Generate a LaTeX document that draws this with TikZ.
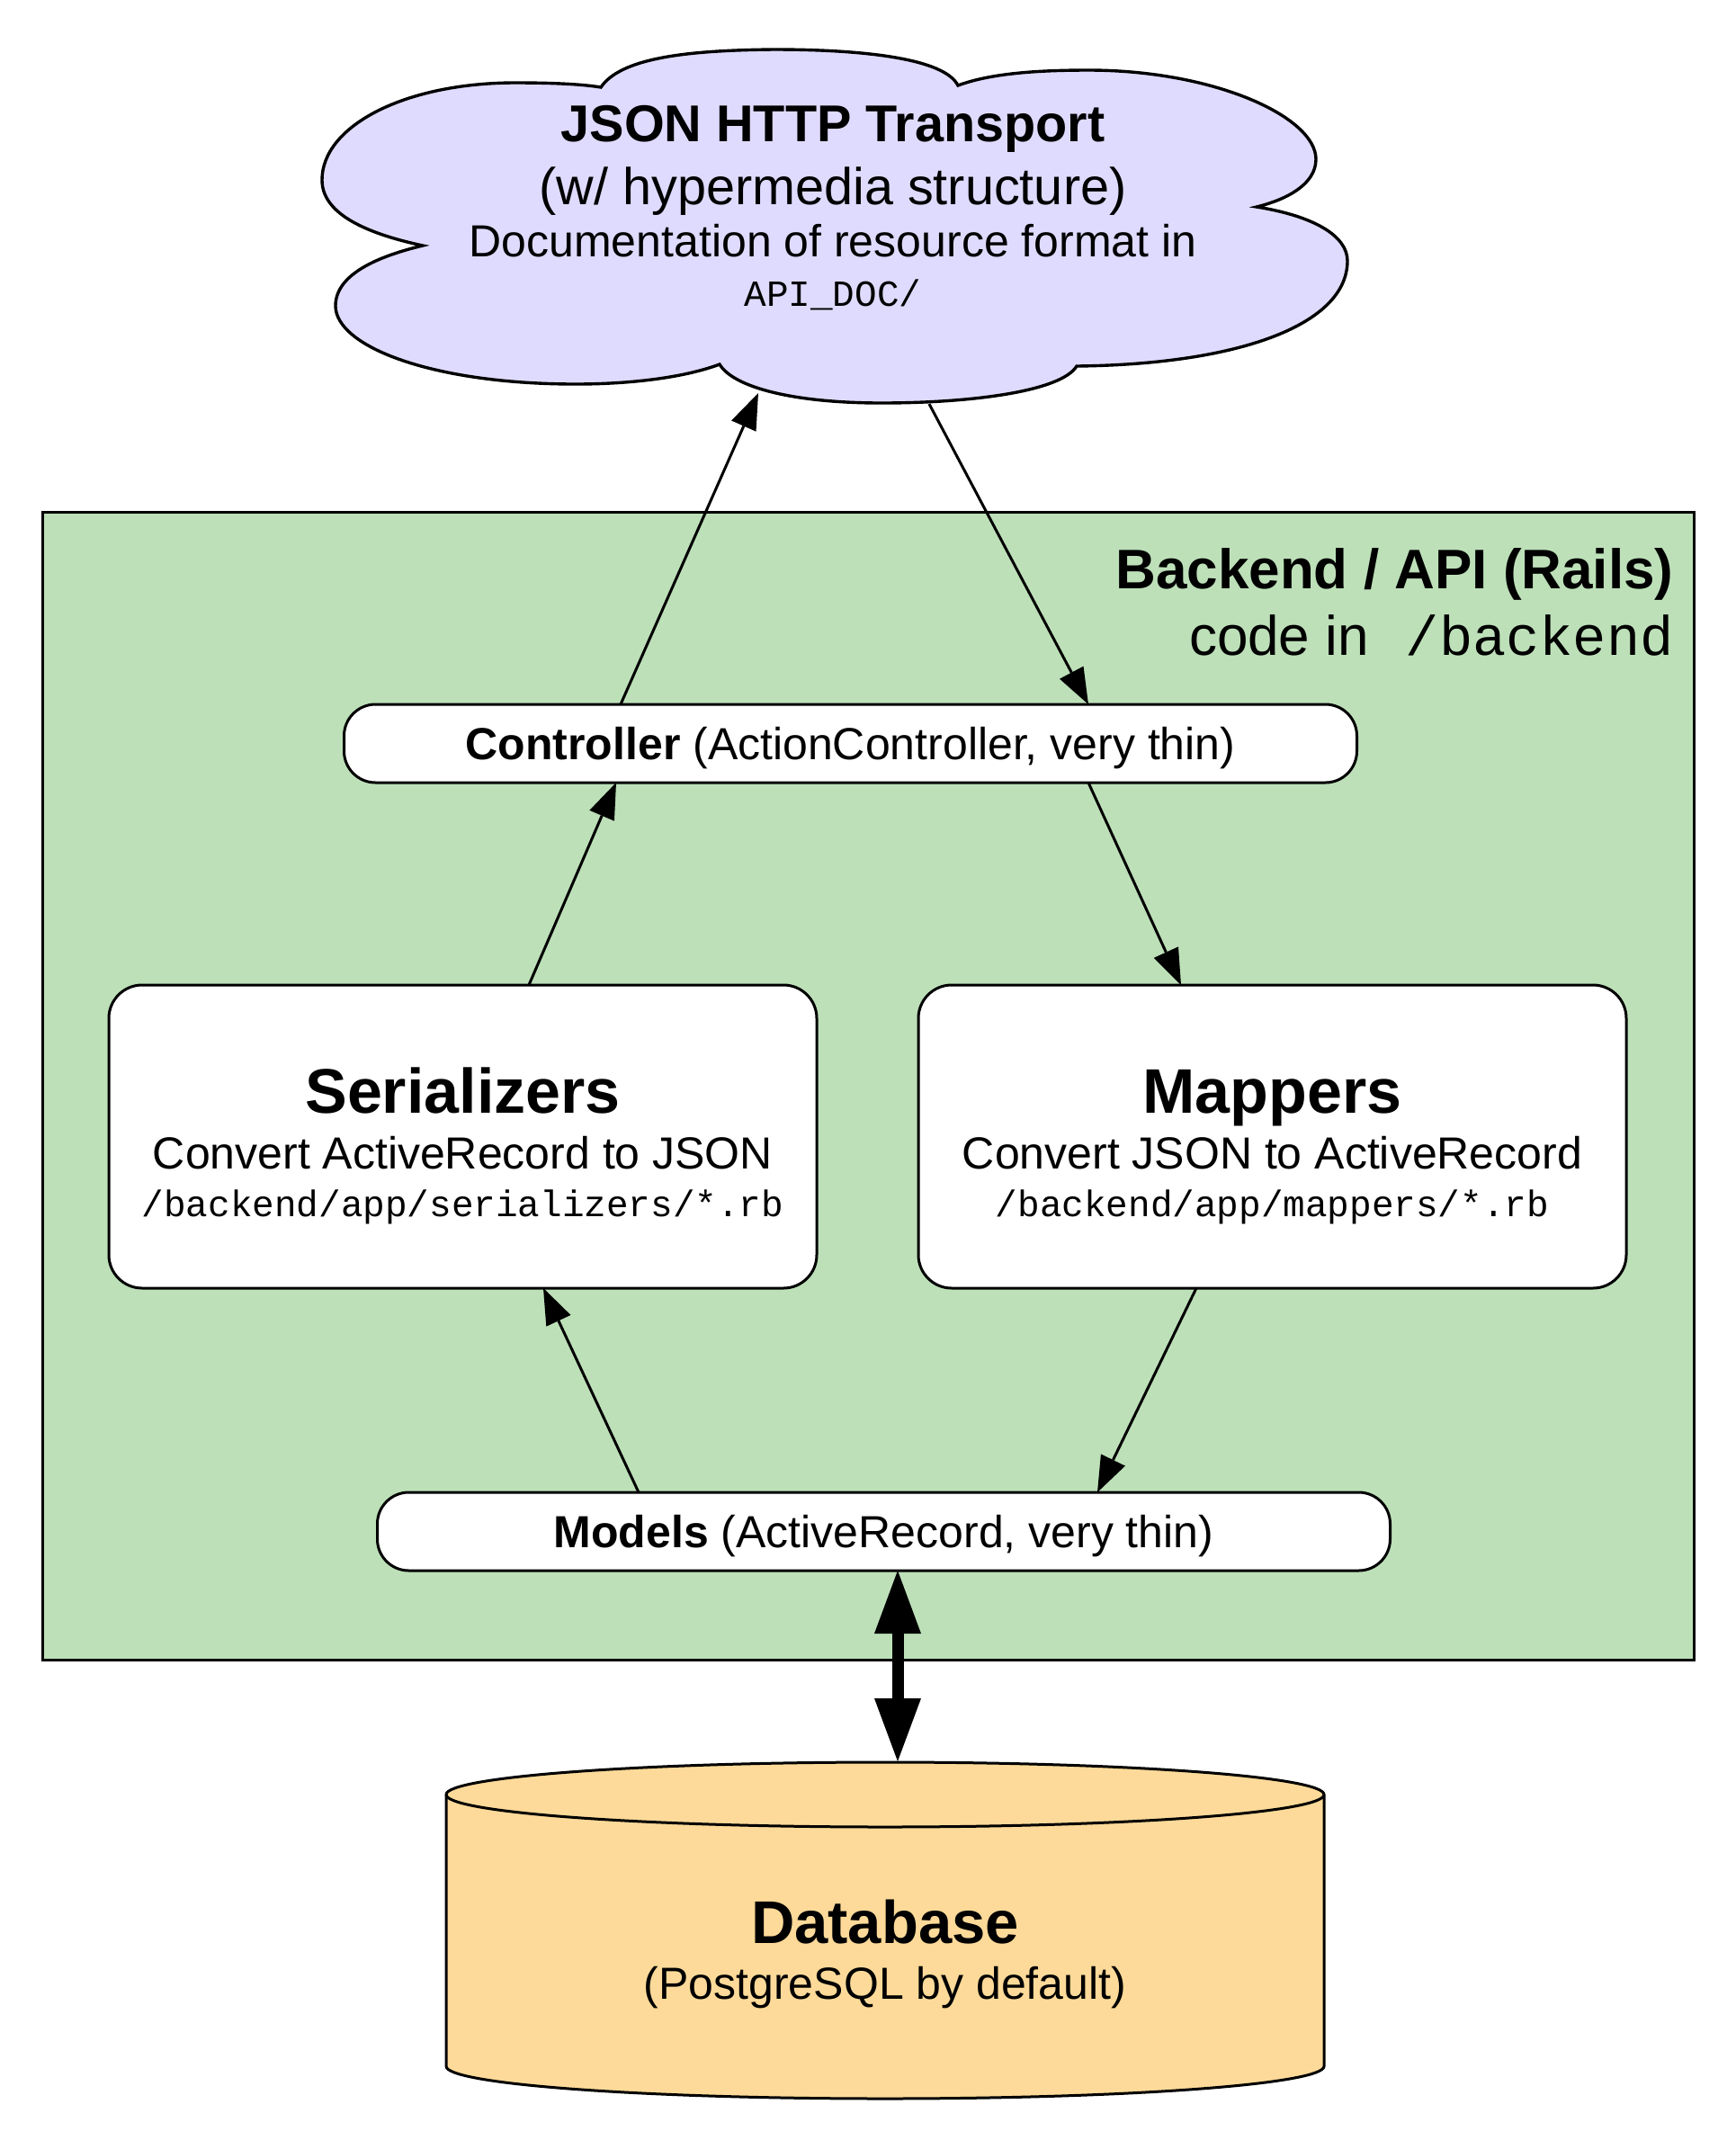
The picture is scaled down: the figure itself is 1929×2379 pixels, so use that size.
\documentclass[tikz,border=0pt]{standalone}
\usepackage{fontspec}
\setmainfont{Liberation Sans}
\setmonofont{Liberation Mono}
\usetikzlibrary{arrows.meta,calc}
\definecolor{cloudfill}{RGB}{223,219,254}
\definecolor{backfill}{RGB}{189,224,185}
\definecolor{dbfill}{RGB}{253,218,153}
\begin{document}
\begin{tikzpicture}[x=0.5pt,y=-0.5pt,
  box/.style={draw, line width=1.5pt, fill=white, inner sep=0pt, outer sep=0pt},
  thinbox/.style={box, rounded corners=17.5pt, minimum width=563pt, minimum height=43.5pt},
  bigbox/.style={box, rounded corners=18.5pt, minimum width=393.5pt, minimum height=168.5pt},
  arr/.style={line width=1.5pt, -{Triangle[length=20pt,width=15pt,line width=0pt]}},
  bigarr/.style={line width=6.5pt, {Triangle[length=35pt,width=26pt,line width=0pt]}-{Triangle[length=35pt,width=26pt,line width=0pt]}},
  txt/.style={anchor=base, inner sep=0pt, outer sep=0pt},
  fa/.style={font=\fontsize{28.8}{34}\selectfont},
  fb/.style={font=\fontsize{25}{30}\selectfont},
  fmono/.style={font=\ttfamily\fontsize{20.5}{24}\selectfont},
  ftitle/.style={font=\fontsize{35}{42}\selectfont\bfseries},
]
\useasboundingbox (0,0) rectangle (1929,2379);

% cloud
\draw[fill=cloudfill, line width=1.7pt]
  (470,273) .. controls (400,258) and (358,235) .. (358,200)
  .. controls (358,140) and (450,92) .. (573,92)
  .. controls (620,92) and (650,94) .. (668,97)
  .. controls (690,65) and (760,56) .. (860,55)
  .. controls (960,55) and (1050,65) .. (1065,95)
  .. controls (1100,82) and (1150,78) .. (1210,78)
  .. controls (1350,78) and (1463,130) .. (1463,177)
  .. controls (1463,205) and (1430,222) .. (1397,230)
  .. controls (1460,240) and (1498,262) .. (1498,290)
  .. controls (1498,360) and (1380,405) .. (1197,407)
  .. controls (1180,435) and (1080,448) .. (980,448)
  .. controls (880,448) and (815,430) .. (800,405)
  .. controls (760,420) and (700,427) .. (640,427)
  .. controls (480,427) and (373,385) .. (373,340)
  .. controls (373,305) and (420,285) .. (470,273) -- cycle;
\coordinate (cloudin) at (843,437);
\coordinate (cloudout) at (1033,449);

\node[txt, font=\fontsize{28.8}{34}\selectfont\bfseries] (ct1) at (926,157) {JSON HTTP Transport};
\node[txt, fa] (ct2) at (926,227) {(w/ hypermedia structure)};
\node[txt, fb] (ct3) at (926,285) {Documentation of resource format in};
\node[txt, fmono] (ct4) at (926,340) {API\_DOC/};

% backend container
\draw[fill=backfill, line width=1.5pt] (47,569) rectangle (1883,1845);
\node[anchor=base east, inner sep=0pt, font=\fontsize{31}{37}\selectfont\bfseries] (bl1) at (1861,654) {Backend / API (Rails)};
\node[anchor=base east, inner sep=0pt, font=\fontsize{31}{37}\selectfont] (bl2) at (1861,728) {code in\hspace{20.5pt}\texttt{/backend}};

% boxes
\node[thinbox] (ctrl) at (945.5,826.5) {};
\node[txt, fb] (ctrlt) at (945.5,844) {\textbf{Controller} (ActionController, very thin)};

\node[bigbox] (ser) at (514.5,1263.5) {};
\node[txt, ftitle] (sert1) at (514.5,1237) {Serializers};
\node[txt, fb] (sert2) at (514.5,1299) {Convert ActiveRecord to JSON};
\node[txt, fmono] (sert3) at (514.5,1352) {/backend/app/serializers/*.rb};

\node[bigbox] (map) at (1414.5,1263.5) {};
\node[txt, ftitle] (mapt1) at (1414.5,1237) {Mappers};
\node[txt, fb] (mapt2) at (1414.5,1299) {Convert JSON to ActiveRecord};
\node[txt, fmono] (mapt3) at (1414.5,1352) {/backend/app/mappers/*.rb};

\node[thinbox] (mod) at (982.5,1702.5) {};
\node[txt, fb] (modt) at (982.5,1720) {\textbf{Models} (ActiveRecord, very thin)};

% database
\draw[fill=dbfill, line width=1.5pt]
  (496,1995) -- (496,2297) arc[start angle=180, end angle=360, x radius=244pt, y radius=18pt]
  -- (1472,1995) arc[start angle=0, end angle=180, x radius=244pt, y radius=18pt] -- cycle;
\draw[line width=1.5pt] (496,1995) arc[start angle=180, end angle=360, x radius=244pt, y radius=18pt];
\coordinate (dbtop) at (998,1958);
\node[txt, font=\fontsize{33.5}{40}\selectfont\bfseries] (dbt1) at (984,2160) {Database};
\node[txt, fb] (dbt2) at (984,2222) {(PostgreSQL by default)};

% connectors
\draw[arr] ($(ctrl.north)+(-255.5,0)$) -- (cloudin);
\draw[arr] (cloudout) -- ($(ctrl.north)+(264.5,0)$);
\draw[arr] ($(ser.north)+(73.5,0)$) -- ($(ctrl.south)+(-260.5,0)$);
\draw[arr] ($(ctrl.south)+(264.5,0)$) -- ($(map.north)+(-101.5,0)$);
\draw[arr] ($(mod.north)+(-272.5,0)$) -- ($(ser.south)+(89.5,0)$);
\draw[arr] ($(map.south)+(-84.5,0)$) -- ($(mod.north)+(237.5,0)$);
\draw[bigarr] ($(mod.south)+(15.5,0)$) -- (dbtop);
\end{tikzpicture}
\end{document}
